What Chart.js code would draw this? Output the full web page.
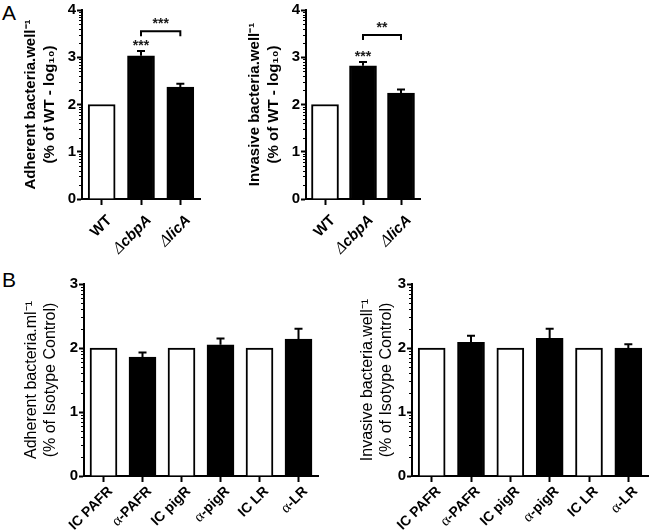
<!DOCTYPE html>
<html>
<head>
<meta charset="utf-8">
<script src="https://cdn.jsdelivr.net/npm/chart.js@4.4.0/dist/chart.umd.min.js"></script>
<style>
  body { margin: 0; background: #fff; }
  #wrap { position: relative; width: 650px; height: 532px; font-family: "Liberation Sans", Arial, sans-serif; }
  canvas { position: absolute; }
  .letter { position: absolute; font-size: 21px; line-height: 21px; color: #000; }
</style>
</head>
<body>
<div id="wrap">
  <div class="letter" style="left:2px;top:2px">A</div>
  <div class="letter" style="left:2px;top:269px">B</div>
  <canvas id="adhA" width="215" height="270" style="left:0;top:0"></canvas>
  <canvas id="invA" width="210" height="270" style="left:230px;top:0"></canvas>
  <canvas id="adhB" width="330" height="262" style="left:0;top:270px"></canvas>
  <canvas id="invB" width="320" height="262" style="left:330px;top:270px"></canvas>
</div>
<script>
// panel A: mutants vs WT
const mutLabels = ['WT', 'ΔcbpA', 'ΔlicA'];
const mutFills = ['#fff', '#000', '#000'];
const adhMutValues = [2.0, 3.03, 2.37];
const adhMutErrors = [0, 0.10, 0.07];
const adhMutStars = ['', '***', ''];
const adhMutBracket = [1, 2, 3.55, '***'];
const invMutValues = [2.0, 2.82, 2.24];
const invMutErrors = [0, 0.08, 0.08];
const invMutStars = ['', '***', ''];
const invMutBracket = [1, 2, 3.47, '**'];

// panel B: blocking antibodies vs isotype control
const abLabels = ['IC PAFR', 'α-PAFR', 'IC pigR', 'α-pigR', 'IC LR', 'α-LR'];
const abFills = ['#fff', '#000', '#fff', '#000', '#fff', '#000'];
const adhAbValues = [2.0, 1.86, 2.0, 2.05, 2.0, 2.14];
const adhAbErrors = [0, 0.07, 0, 0.10, 0, 0.16];
const invAbValues = [2.0, 2.09, 2.0, 2.15, 2.0, 2.0];
const invAbErrors = [0, 0.10, 0, 0.15, 0, 0.06];

const sans = '"Liberation Sans", Arial, sans-serif';
const serif = '"Liberation Serif", "Times New Roman", serif';

// greek prefix (α / Δ) is set in serif like the original figure
const drawTickLabel = (ctx, text, x, y, size) => {
    const parts = [];
    if (/^[αΔ]/.test(text)) {
        const it = text[0] === 'Δ' ? 'italic ' : '';
        parts.push([text[0], it + (size + 1) + 'px ' + serif]);
        parts.push([text.slice(1), it + 'bold ' + size + 'px ' + sans]);
    } else {
        parts.push([text, 'bold ' + size + 'px ' + sans]);
    }
    let total = 0;
    parts.forEach(p => { ctx.font = p[1]; total += ctx.measureText(p[0]).width; });
    ctx.save();
    ctx.translate(x, y);
    ctx.rotate(-Math.PI / 4);
    ctx.textBaseline = 'middle';
    ctx.textAlign = 'left';
    let cx = -total;
    parts.forEach(p => {
        ctx.font = p[1];
        ctx.fillText(p[0], cx, 0);
        cx += ctx.measureText(p[0]).width;
    });
    ctx.restore();
};

const marksPlugin = {
    id: 'marks',
    afterDatasetsDraw(chart, args, opts) {
        const { ctx, scales: { x, y }, chartArea } = chart;
        const bars = chart.getDatasetMeta(0).data;
        const values = chart.data.datasets[0].data;
        ctx.save();
        ctx.strokeStyle = '#000';
        ctx.fillStyle = '#1a1a1a';
        ctx.lineWidth = 2;

        opts.errors.forEach((e, i) => {
            if (!e) return;
            const top = y.getPixelForValue(values[i] + e);
            ctx.beginPath();
            ctx.moveTo(bars[i].x, bars[i].y);
            ctx.lineTo(bars[i].x, top);
            ctx.moveTo(bars[i].x - 4, top);
            ctx.lineTo(bars[i].x + 4, top);
            ctx.stroke();
        });

        ctx.font = 'bold 14px ' + sans;
        ctx.textAlign = 'center';
        ctx.textBaseline = 'alphabetic';
        (opts.stars || []).forEach((s, i) => {
            if (!s) return;
            ctx.fillText(s, bars[i].x, y.getPixelForValue(values[i] + opts.errors[i]) - 1);
        });

        if (opts.bracket) {
            const [a, b, val, label] = opts.bracket;
            const py = y.getPixelForValue(val);
            ctx.beginPath();
            ctx.moveTo(bars[a].x, py + 5);
            ctx.lineTo(bars[a].x, py);
            ctx.lineTo(bars[b].x, py);
            ctx.lineTo(bars[b].x, py + 5);
            ctx.stroke();
            ctx.fillText(label, (bars[a].x + bars[b].x) / 2, py - 3);
        }

        // log10 minor ticks on the y axis
        ctx.lineWidth = 1;
        ctx.beginPath();
        for (let n = 0; n < y.max; n++) {
            for (let k = 2; k <= 9; k++) {
                const py = Math.round(y.getPixelForValue(n + Math.log10(k))) + 0.5;
                ctx.moveTo(chartArea.left - 3, py);
                ctx.lineTo(chartArea.left, py);
            }
        }
        ctx.stroke();
        ctx.restore();
    },
    afterDraw(chart, args, opts) {
        const { ctx, scales: { x } } = chart;
        ctx.save();
        ctx.fillStyle = '#000';
        chart.data.labels.forEach((l, i) => {
            drawTickLabel(ctx, l, x.getPixelForValue(i) + opts.labelDx, x.top + opts.labelDy, opts.labelSize);
        });
        ctx.restore();
    }
};

const makeChart = (id, labels, values, fills, cfg) => new Chart(document.getElementById(id), {
    type: 'bar',
    data: {
        labels,
        datasets: [{
            data: values,
            backgroundColor: fills,
            borderColor: '#000',
            borderWidth: 2,
            barThickness: 27,
        }]
    },
    options: {
        responsive: false,
        animation: false,
        layout: { padding: { top: cfg.padTop, right: cfg.padRight, left: 0, bottom: 0 } },
        plugins: {
            legend: { display: false },
            tooltip: { enabled: false },
            marks: {
                errors: cfg.errors, stars: cfg.stars, bracket: cfg.bracket,
                labelSize: cfg.labelSize, labelDx: cfg.labelDx, labelDy: cfg.labelDy
            },
        },
        scales: {
            x: {
                grid: { offset: false, drawOnChartArea: false, tickLength: 6, tickColor: '#000', tickWidth: 2 },
                border: { color: '#000', width: 2 },
                ticks: { display: false, autoSkip: false },
                afterFit: s => { s.height = cfg.xHeight; }
            },
            y: {
                min: 0,
                max: cfg.max,
                ticks: { stepSize: 1, color: '#000', padding: 1, font: { family: sans, size: 15, weight: 'bold' } },
                grid: { drawOnChartArea: false, tickLength: 5, tickColor: '#000', tickWidth: 2 },
                border: { color: '#000', width: 2 },
                title: {
                    display: true,
                    text: cfg.title,
                    color: '#000',
                    font: cfg.titleFont,
                    padding: { top: cfg.titlePad, bottom: 0 }
                },
                afterFit: s => { s.width = cfg.yWidth; }
            }
        }
    },
    plugins: [marksPlugin]
});

const boldTitle = { family: sans, size: 15, weight: 'bold', lineHeight: 1.25 };
const plainTitle = { family: sans, size: 16, weight: 'normal', lineHeight: 1.2 };

makeChart('adhA', mutLabels, adhMutValues, mutFills, {
    errors: adhMutErrors, stars: adhMutStars, bracket: adhMutBracket,
    labelSize: 15, labelDx: 8, labelDy: 19,
    max: 4, padTop: 0, padRight: 15, xHeight: 71, yWidth: 82, titlePad: 21.5,
    titleFont: boldTitle, title: ['Adherent bacteria.well⁻¹', '(% of WT - log₁₀)']
});
makeChart('invA', mutLabels, invMutValues, mutFills, {
    errors: invMutErrors, stars: invMutStars, bracket: invMutBracket,
    labelSize: 15, labelDx: 8, labelDy: 19,
    max: 4, padTop: 0, padRight: 20, xHeight: 71, yWidth: 76, titlePad: 15.5,
    titleFont: boldTitle, title: ['Invasive bacteria.well⁻¹', '(% of WT - log₁₀)']
});
makeChart('adhB', abLabels, adhAbValues, abFills, {
    errors: adhAbErrors, labelSize: 14, labelDx: 7, labelDy: 13,
    max: 3, padTop: 14, padRight: 12, xHeight: 56, yWidth: 84, titlePad: 21.5,
    titleFont: plainTitle, title: ['Adherent bacteria.ml⁻¹', '(% of Isotype Control)']
});
makeChart('invB', abLabels, invAbValues, abFills, {
    errors: invAbErrors, labelSize: 14, labelDx: 7, labelDy: 13,
    max: 3, padTop: 14, padRight: 2, xHeight: 56, yWidth: 82, titlePad: 27.5,
    titleFont: plainTitle, title: ['Invasive bacteria.well⁻¹', '(% of Isotype Control)']
});
</script>
</body>
</html>
